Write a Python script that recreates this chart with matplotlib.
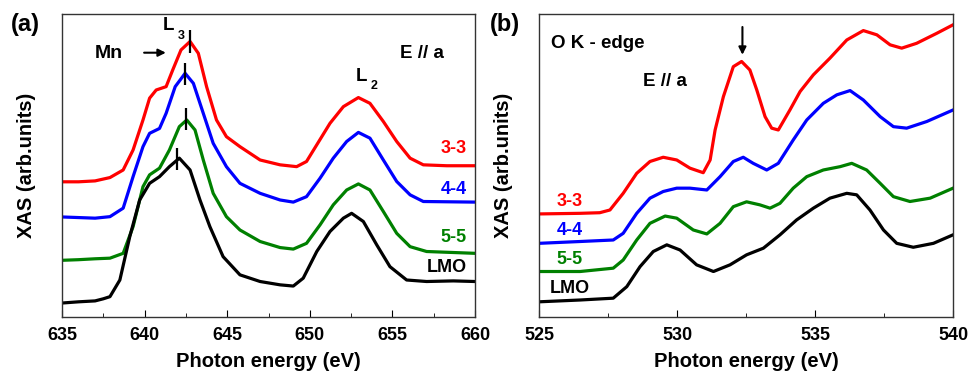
import matplotlib
matplotlib.use("Agg")
import matplotlib.pyplot as plt

plt.rcParams['font.family'] = ['Liberation Sans', 'DejaVu Sans']
plt.rcParams['font.weight'] = 'bold'

# ---- panel (a): Mn L-edge, E // a ----
e_mn_red = [635, 636, 637, 637.9, 638.7, 639.3, 639.9, 640.3, 640.7, 641.3, 641.7, 642.2, 642.75,
            643.25, 643.75, 644.35, 644.95, 645.77, 646.99, 648.2, 649.2, 649.8, 650.42, 651.22,
            652.03, 652.94, 653.64, 654.45, 655.26, 656.07, 656.87, 658.29, 660]
mn_red = [44.6, 44.6, 44.9, 46.0, 48.5, 55.1, 65.0, 72.2, 74.9, 76.0, 81.5, 88.1, 90.9,
          87.0, 76.0, 65.0, 59.5, 56.2, 51.8, 50.2, 49.6, 51.3, 56.8, 63.9,
          69.4, 72.4, 70.5, 64.5, 57.9, 52.4, 50.2, 49.9, 49.9]

e_mn_blue = [635, 636, 637, 637.9, 638.7, 639.3, 639.9, 640.3, 640.9, 641.3, 641.85, 642.45,
             642.95, 643.55, 644.15, 644.95, 645.77, 646.99, 648.2, 649.0, 649.8, 650.62, 651.42,
             652.23, 652.94, 653.64, 654.45, 655.26, 656.07, 656.87, 660]
mn_blue = [33.0, 32.8, 32.6, 33.1, 35.9, 46.3, 56.2, 60.6, 62.2, 67.2, 76.0, 80.4,
           77.1, 67.2, 57.3, 49.6, 44.1, 40.8, 38.6, 37.9, 39.7, 45.8, 52.4,
           57.9, 60.9, 59.0, 51.8, 44.7, 40.3, 38.1, 37.9]

e_mn_green = [635, 636, 637, 637.9, 638.7, 639.3, 639.9, 640.3, 640.9, 641.5, 642.1, 642.55,
              643.05, 643.55, 644.15, 644.95, 645.77, 646.99, 648.2, 649.0, 649.8, 650.62,
              651.42, 652.23, 652.94, 653.64, 654.45, 655.26, 656.07, 657.07, 660]
mn_green = [18.7, 18.9, 19.2, 19.4, 21.0, 29.8, 43.0, 46.9, 49.1, 55.1, 62.8, 65.0,
            61.7, 51.8, 40.8, 33.1, 28.7, 24.9, 22.9, 22.4, 24.3, 30.4,
            37.0, 41.9, 43.9, 41.9, 34.8, 27.6, 23.2, 21.6, 21.0]

e_mn_black = [635, 636, 637, 637.5, 637.9, 638.5, 639.1, 639.7, 640.3, 640.9, 641.5, 642.1,
              642.75, 643.35, 643.95, 644.75, 645.77, 646.99, 648.2, 649.0, 649.6, 650.42,
              651.22, 652.03, 652.53, 653.24, 654.05, 654.85, 655.86, 657.07, 658.69, 660]
mn_black = [4.6, 5.0, 5.3, 6.0, 6.7, 12.2, 26.5, 38.6, 44.1, 46.3, 49.6, 52.4,
            48.5, 38.6, 29.8, 19.9, 13.9, 11.7, 10.6, 10.2, 12.8, 21.6,
            28.2, 32.6, 34.2, 31.5, 23.8, 16.6, 12.2, 11.7, 11.9, 11.7]

# L3 peak markers: energy, bottom, top
l3_x = [642.76, 642.45, 642.5, 641.96]
l3_lo = [87.0, 76.6, 61.7, 48.5]
l3_hi = [94.7, 83.7, 68.9, 55.7]

# ---- panel (b): O K-edge ----
e_o_red = [525, 526.49, 527.2, 527.57, 528.05, 528.54, 529.02, 529.5, 529.99, 530.47, 530.95,
           531.2, 531.38, 531.68, 532.04, 532.34, 532.64, 532.89, 533.19, 533.43, 533.67,
           534.09, 534.46, 534.94, 535.54, 536.15, 536.75, 537.24, 537.72, 538.14, 538.68,
           539.41, 540]
o_red = [34.0, 34.2, 34.4, 35.3, 40.8, 47.4, 51.3, 52.7, 51.8, 49.1, 47.6,
         51.8, 61.7, 72.7, 82.6, 84.3, 81.5, 74.9, 66.1, 62.3, 61.7,
         68.3, 74.4, 79.9, 85.4, 91.4, 94.5, 93.1, 89.8, 88.7, 90.3,
         93.6, 96.4]

e_o_blue = [525, 526.49, 527.69, 528.05, 528.54, 529.02, 529.5, 529.99, 530.47, 531.08, 531.56,
            532.04, 532.4, 532.76, 533.25, 533.67, 534.21, 534.7, 535.3, 535.79, 536.27,
            536.75, 537.36, 537.84, 538.32, 539.05, 540]
o_blue = [24.3, 24.9, 25.4, 27.6, 34.2, 39.2, 41.4, 42.5, 42.5, 41.9, 46.3,
          51.3, 52.7, 50.7, 48.5, 50.7, 58.4, 65.0, 70.5, 73.3, 74.7,
          71.6, 66.1, 62.8, 62.3, 64.5, 68.3]

e_o_green = [525, 526.49, 527.69, 528.05, 528.54, 529.02, 529.57, 529.99, 530.59, 531.08,
             531.56, 532.04, 532.52, 533.0, 533.37, 533.73, 534.21, 534.7, 535.3, 535.91,
             536.33, 536.87, 537.36, 537.84, 538.44, 539.17, 540]
o_green = [15.0, 15.0, 16.1, 18.8, 25.4, 30.9, 33.3, 32.6, 28.7, 27.4,
           30.9, 36.4, 38.0, 37.0, 35.9, 37.5, 42.5, 46.3, 48.5, 49.6,
           50.7, 48.5, 44.1, 39.7, 38.1, 39.2, 42.5]

e_o_black = [525, 526.49, 527.69, 528.18, 528.66, 529.14, 529.63, 530.11, 530.71, 531.32,
             531.92, 532.52, 533.13, 533.73, 534.33, 534.94, 535.54, 536.15, 536.51, 536.99,
             537.48, 537.96, 538.56, 539.29, 540]
o_black = [5.0, 5.6, 6.2, 10.0, 16.6, 21.6, 23.8, 22.1, 17.2, 15.0,
           17.2, 20.5, 22.7, 27.1, 32.0, 35.9, 39.2, 40.8, 40.3, 35.3,
           28.7, 24.3, 23.0, 24.3, 27.1]

names = ['3-3', '4-4', '5-5', 'LMO']
colors = ['red', 'blue', 'green', 'black']
label_y_a = [55.7, 41.9, 26.2, 16.3]
label_y_b = [38.1, 28.5, 18.8, 9.5]

fig = plt.figure(figsize=(9.71, 3.76), dpi=100)
ax1 = fig.add_axes([0.0639, 0.157, 0.4253, 0.806])
ax2 = fig.add_axes([0.5551, 0.157, 0.4264, 0.806])

lw = 2.3
curves_a = [(e_mn_red, mn_red), (e_mn_blue, mn_blue), (e_mn_green, mn_green), (e_mn_black, mn_black)]
curves_b = [(e_o_red, o_red), (e_o_blue, o_blue), (e_o_green, o_green), (e_o_black, o_black)]
for (e, y), c in zip(curves_a, colors):
    ax1.plot(e, y, color=c, lw=lw, solid_joinstyle='round')
for (e, y), c in zip(curves_b, colors):
    ax2.plot(e, y, color=c, lw=lw, solid_joinstyle='round')
ax1.vlines(l3_x, l3_lo, l3_hi, color='black', lw=1.6)

for ax, lo, hi in [(ax1, 635, 660), (ax2, 525, 540)]:
    ax.set_xlim(lo, hi)
    ax.set_ylim(0, 100)
    ax.set_yticks([])
    ax.set_xticks(range(lo, hi + 1, 5))
    ax.set_xticks([v + 2.5 for v in range(lo, hi, 5)], minor=True)
    ax.tick_params(axis='x', which='both', direction='in', top=False, labelsize=13, pad=7)
    ax.tick_params(axis='x', which='major', length=5)
    ax.tick_params(axis='x', which='minor', length=3)
    for lab in ax.get_xticklabels():
        lab.set_fontweight('bold')
    for s in ax.spines.values():
        s.set_linewidth(1.0)
        s.set_color('#333333')
    ax.set_xlabel('Photon energy (eV)', fontsize=14.5, fontweight='bold', labelpad=6)
    ax.set_ylabel('XAS (arb.units)', fontsize=14.5, fontweight='bold', labelpad=19)

# panel (a) annotations
fig.text(0.011, 0.934, '(a)', fontsize=17, fontweight='bold', va='center')
ax1.text(637.85, 87.0, 'Mn', fontsize=14, fontweight='bold', ha='center', va='center')
ax1.annotate('', xy=(641.45, 87.2), xytext=(639.8, 87.2),
             arrowprops=dict(arrowstyle='-|>', color='black', lw=1.5, mutation_scale=11))
ax1.text(641.1, 96.2, 'L', fontsize=13.5, fontweight='bold', ha='left', va='center')
ax1.text(642.0, 92.7, '3', fontsize=9, fontweight='bold', ha='left', va='center')
ax1.text(652.8, 79.3, 'L', fontsize=13.5, fontweight='bold', ha='left', va='center')
ax1.text(653.7, 76.2, '2', fontsize=9, fontweight='bold', ha='left', va='center')
ax1.text(656.77, 87.0, 'E // a', fontsize=13.5, fontweight='bold', ha='center', va='center')
for name, c, yy in zip(names, colors, label_y_a):
    ax1.text(659.5, yy, name, color=c, fontsize=13, fontweight='bold', ha='right', va='center')

# panel (b) annotations
fig.text(0.504, 0.934, '(b)', fontsize=17, fontweight='bold', va='center')
ax2.text(525.45, 90.3, 'O K - edge', fontsize=13.5, fontweight='bold', ha='left', va='center')
ax2.text(529.57, 77.7, 'E // a', fontsize=13.5, fontweight='bold', ha='center', va='center')
ax2.annotate('', xy=(532.37, 85.6), xytext=(532.37, 96.6),
             arrowprops=dict(arrowstyle='-|>', color='black', lw=1.5, mutation_scale=11))
for name, c, yy in zip(names, colors, label_y_b):
    ax2.text(526.1, yy, name, color=c, fontsize=13, fontweight='bold', ha='center', va='center')

fig.savefig('out.png', dpi=100)
